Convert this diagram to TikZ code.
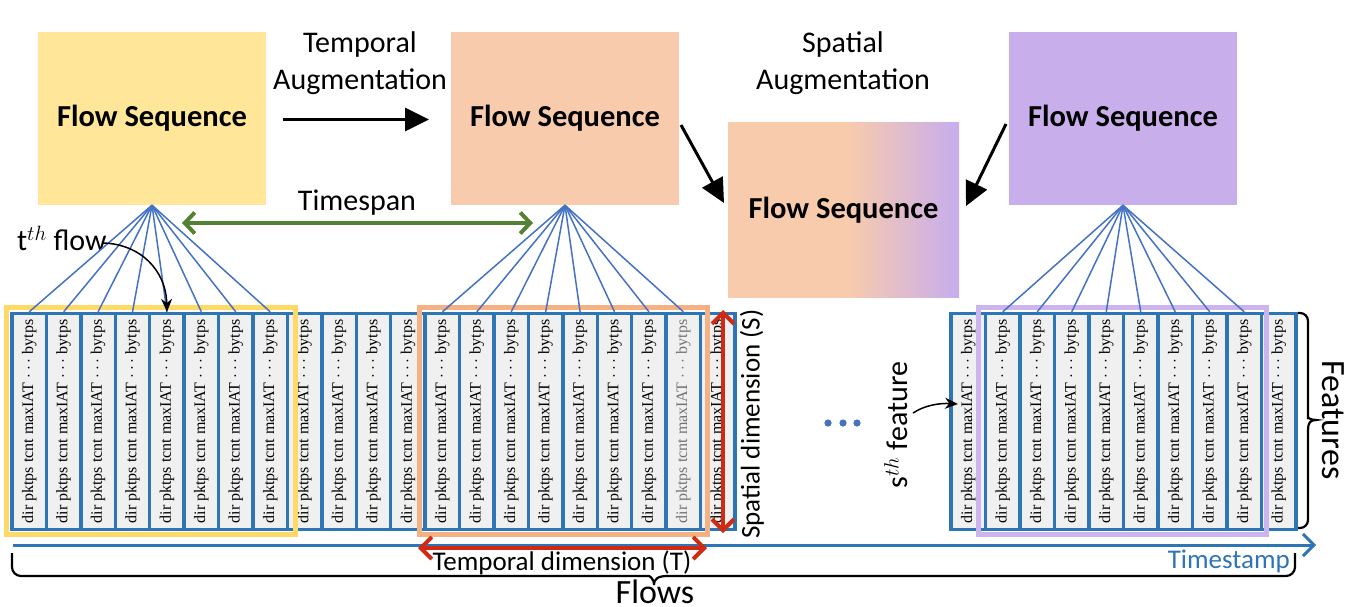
\documentclass[tikz,border=0pt]{standalone}
\usepackage{fontspec}
\setmainfont{Carlito}
\newfontfamily\cellfont{Liberation Serif}
\usetikzlibrary{arrows.meta,calc}
\definecolor{yelbox}{HTML}{FFE699}
\definecolor{peach}{HTML}{F8CBAD}
\definecolor{purp}{HTML}{C8AEEB}
\definecolor{yelframe}{HTML}{FFD966}
\definecolor{peachframe}{HTML}{F4B183}
\definecolor{purpframe}{HTML}{CCB4EF}
\definecolor{cellblue}{HTML}{2E75B6}
\definecolor{fanblue}{HTML}{4472C4}
\definecolor{tsgreen}{HTML}{548235}
\definecolor{dimred}{HTML}{D02A12}
\definecolor{cellfill}{HTML}{F0F0F0}
\pgfdeclarehorizontalshading{peachpurp}{100bp}{color(0bp)=(peach); color(51bp)=(peach); color(74bp)=(purp); color(100bp)=(purp)}
\tikzset{
  fsbox/.style={minimum width=228pt, minimum height=173pt, inner sep=0pt, font=\fontsize{30.5}{36}\selectfont\bfseries},
  lbl/.style={font=\fontsize{30}{37}\selectfont, align=center, inner sep=0pt},
  dimlbl/.style={font=\fontsize{27}{32}\selectfont, inner sep=0pt},
  biglbl/.style={font=\fontsize{34}{40}\selectfont, inner sep=0pt},
  cellbox/.style={draw=cellblue, line width=3.4pt, fill=cellfill, rotate=90, minimum width=216pt, minimum height=34.4pt, inner sep=0pt, font=\cellfont\fontsize{16}{18}\selectfont},
  fan/.style={draw=fanblue, line width=1.5pt},
  frame/.style={line width=5pt},
  bigarrow/.style={-{Triangle[length=24pt,width=23pt]}, line width=3pt, black},
  thinarrow/.style={-{Stealth[length=13pt,width=11pt]}, line width=1.5pt, black},
  greenarr/.style={{Straight Barb[length=10pt,width=21pt]}-{Straight Barb[length=10pt,width=21pt]}, line width=4pt, draw=tsgreen},
  redarr/.style={{Straight Barb[length=11pt,width=22pt]}-{Straight Barb[length=11pt,width=22pt]}, line width=4pt, draw=dimred},
  tsarrow/.style={-{Straight Barb[length=11pt,width=22pt]}, line width=3pt, draw=cellblue},
  brc/.style={line width=2.2pt, black},
}
\begin{document}
\begin{tikzpicture}[x=1pt,y=-1pt]
\useasboundingbox (0,0) rectangle (1349,606);
% top boxes
\node[fsbox, fill=yelbox] (Y) at (152,118.5) {Flow Sequence};
\node[fsbox, fill=peach] (P) at (565,118.5) {Flow Sequence};
\node[fsbox, fill=purp] (U) at (1123,118.5) {Flow Sequence};
\node[fsbox, minimum width=231pt, minimum height=175pt, shade, shading=peachpurp] (G) at (843.5,210) {Flow Sequence};
% labels
\node[lbl] (tempaug) at (360,63) {Temporal\\Augmentation};
\node[lbl] (spaug) at (843,63) {Spatial\\Augmentation};
\node[lbl] (tspan) at (357,203) {Timespan};
\node[lbl, anchor=base west] (tflow) at (17,250) {t$^{th}$ flow};
% top arrows
\coordinate (ta1) at (283,119.5);
\coordinate (ta2) at (429,119.5);
\draw[bigarrow] (ta1) -- (ta2);
\coordinate (pa1) at (681,125);
\coordinate (pa2) at (724,203);
\draw[bigarrow] (pa1) -- (pa2);
\coordinate (ua1) at (1006,124);
\coordinate (ua2) at (966,206);
\draw[bigarrow] (ua1) -- (ua2);
\coordinate (gs1) at (182,223);
\coordinate (gs2) at (533,223);
\draw[greenarr] (gs1) -- (gs2);
% cells
\foreach \i in {1,...,21}{
  \ifnum\i=20 \def\tc{black!55}\else\def\tc{black}\fi
  \node[cellbox, text=\tc] (L\i) at ({12+(\i-0.5)*34.43},421.5) {dir pktps tcnt maxIAT \ensuremath{\cdots} bytps};
}
\foreach \i in {1,...,10}{
  \node[cellbox] (R\i) at ({951+(\i-0.5)*34.5},421.5) {dir pktps tcnt maxIAT \ensuremath{\cdots} bytps};
}
% frames
\draw[frame, draw=yelframe] (6.5,307.5) rectangle (295.5,534.5);
\draw[frame, draw=peachframe] (419.5,307.5) rectangle (707.5,534.5);
\draw[frame, draw=purpframe] (978.5,307.5) rectangle (1266.5,534.5);
% fan lines
\foreach \i in {1,...,8}{ \draw[fan] (Y.south) -- (L\i.east); }
\foreach \i in {13,...,20}{ \draw[fan] (P.south) -- (L\i.east); }
\foreach \i in {2,...,9}{ \draw[fan] (U.south) -- (R\i.east); }
% t-th flow arrow
\coordinate (tf1) at (103,243);
\draw[thinarrow] (tf1) .. controls (140,244) and (166,270) .. (L5.east);
% s-th feature
\node[lbl, rotate=90] (sfeat) at (896,425) {s$^{th}$ feature};
\coordinate (sf1) at (913,413);
\coordinate (sf2) at (958,404);
\draw[thinarrow] (sf1) .. controls (925,405) and (940,403) .. (sf2);
% dots
\foreach \x in {828,843,857}{ \fill[fanblue] (\x,423) circle (3.6pt); }
% timestamp
\coordinate (ts1) at (13,545);
\coordinate (ts2) at (1316,545);
\draw[tsarrow] (ts1) -- (ts2);
\node[dimlbl, text=cellblue, anchor=east] (tstamp) at (1290,561) {Timestamp};
% red dimension arrows
\coordinate (rv1) at (723,310);
\coordinate (rv2) at (723,533);
\draw[redarr] (rv1) -- (rv2);
\coordinate (rh1) at (418,548);
\coordinate (rh2) at (707,548);
\draw[redarr] (rh1) -- (rh2);
\node[dimlbl] (tdim) at (562,563) {Temporal dimension (T)};
\node[dimlbl, rotate=90] (sdim) at (752,424) {Spatial dimension (S)};
% braces
\draw[brc] (12,553) [rounded corners=9pt] -- (12,576) -- (640,576) [sharp corners] .. controls (649,576) and (654,578) .. (654,585) .. controls (654,578) and (659,576) .. (668,576) [rounded corners=9pt] -- (1295,576) -- (1295,553);
\node[biglbl] (flows) at (655,592) {Flows};
\draw[brc] (1298,313) [rounded corners=8pt] -- (1308,313) -- (1308,410) [sharp corners] .. controls (1308,417) and (1310,420) .. (1316,420) .. controls (1310,420) and (1308,423) .. (1308,430) [rounded corners=8pt] -- (1308,528) -- (1298,528);
\node[biglbl, rotate=-90] (feat) at (1333,420) {Features};
\end{tikzpicture}
\end{document}
